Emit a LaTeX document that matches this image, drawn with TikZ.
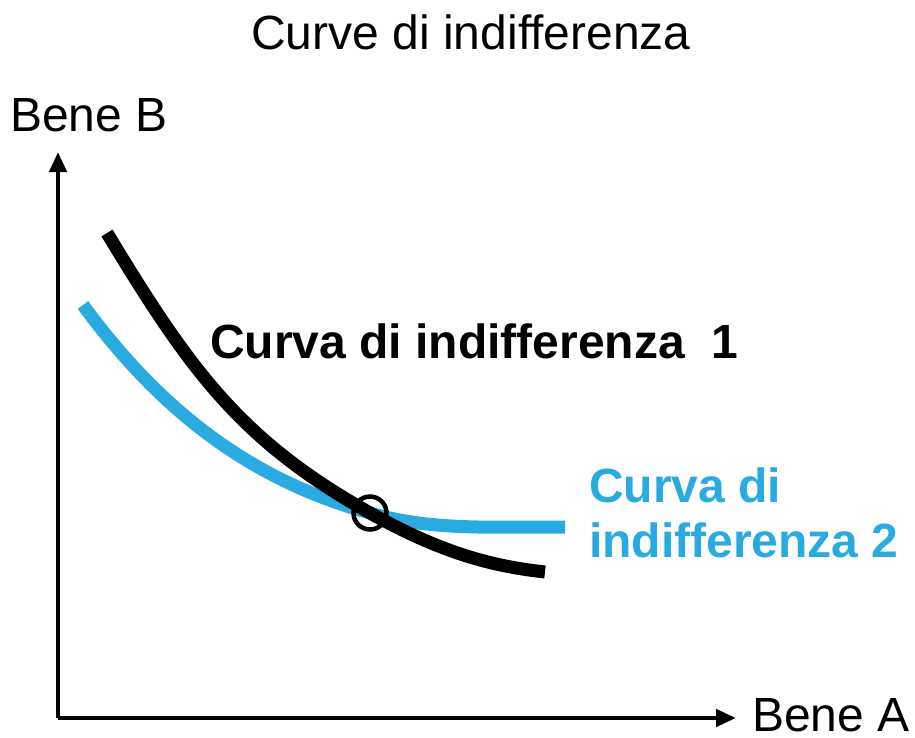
\documentclass[tikz,border=0pt]{standalone}
\usepackage{fontspec}
\setmainfont{Liberation Sans}
\usepackage{tikz}
\usetikzlibrary{arrows.meta}
\definecolor{curveblue}{RGB}{41,171,226}

\begin{document}
\begin{tikzpicture}[x=1pt,y=-1pt,>={Triangle[length=20pt,width=17pt]},
  lbl/.style={inner sep=0pt,anchor=base west,font=\fontsize{48}{55}\selectfont},
  axis/.style={line width=4.5pt},
  icurve/.style={line width=13pt}]
  \useasboundingbox (0,0) rectangle (915,737);

  \node[lbl,anchor=base] (title) at (471,49) {Curve di indifferenza};
  \node[lbl] (beneB) at (10,131) {Bene B};
  \node[lbl] (beneA) at (752,731) {Bene A};

  \coordinate (O) at (58,718);
  \coordinate (ytip) at (58,152);
  \coordinate (xtip) at (736,718);
  \draw[axis,->] (O) -- (ytip);
  \draw[axis,->] (O) -- (xtip);

  % curve 2 (blue) under curve 1 (black)
  \coordinate (cross) at (370,513);
  \draw[icurve,curveblue] (83,305) .. controls (160,410) and (250,480) .. (cross)
    .. controls (430,530) and (480,527) .. (565,527);
  \draw[icurve,black] (107,233) .. controls (190,370) and (240,440) .. (cross)
    .. controls (440,552) and (490,566) .. (545,572);

  \node[draw,circle,line width=4.5pt,minimum size=33pt,inner sep=0pt] (ring) at (cross) {};

  \node[lbl,font=\fontsize{48}{55}\selectfont\bfseries] (c1) at (210,358) {Curva di indifferenza\ \ 1};
  \node[lbl,font=\fontsize{48}{55}\selectfont\bfseries,text=curveblue,align=left,anchor=north west] (c2) at (589,468) {Curva di\\indifferenza 2};
\end{tikzpicture}
\end{document}
